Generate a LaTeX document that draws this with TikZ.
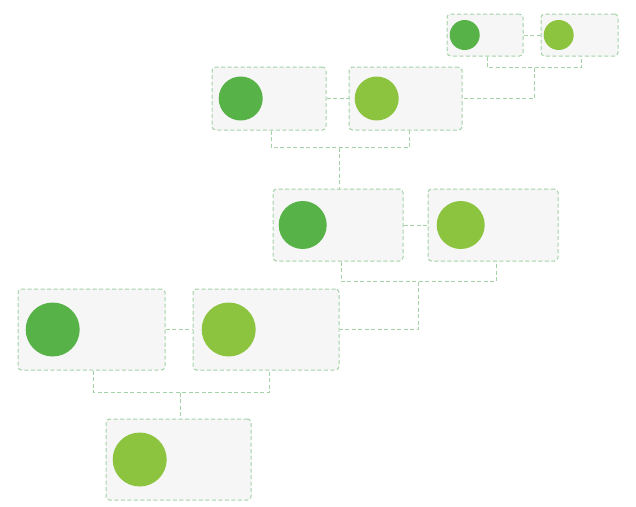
\documentclass[tikz,border=0pt]{standalone}
\usetikzlibrary{positioning, calc}

\definecolor{leafdark}{HTML}{57B247}
\definecolor{leaflight}{HTML}{8DC43F}
\definecolor{frameline}{HTML}{A3D2A6}
\definecolor{cardfill}{HTML}{F6F6F6}

\begin{document}
\begin{tikzpicture}[
    x=1pt, y=-1pt,
    card/.style={
        draw=frameline,
        fill=cardfill,
        dash pattern=on 4pt off 2.5pt,
        rounded corners=3.5pt,
        line width=1pt,
        inner sep=0pt
    },
    dot/.style={circle, inner sep=0pt, draw=none, fill=#1},
    link/.style={draw=frameline, dash pattern=on 4pt off 2.5pt, line width=1pt}
]

\useasboundingbox (0,0) rectangle (636,506);

% ------------------------
% Top pair
% ------------------------
\node[card, minimum width=76pt, minimum height=42pt] (a1) at (485,35) {};
\node[card, minimum width=77pt, minimum height=42pt] (a2) at (579.5,35) {};
\node[dot=leafdark, minimum size=30pt, right=3pt of a1.west] (a1dot) {};
\node[dot=leaflight, minimum size=30pt, right=3pt of a2.west] (a2dot) {};

% ------------------------
% Second pair
% ------------------------
\node[card, minimum width=114pt, minimum height=63pt] (b1) at (269,98.5) {};
\node[card, minimum width=113pt, minimum height=63pt] (b2) at (405.5,98.5) {};
\node[dot=leafdark, minimum size=44pt, right=7pt of b1.west] (b1dot) {};
\node[dot=leaflight, minimum size=44pt, right=6pt of b2.west] (b2dot) {};

% ------------------------
% Third pair
% ------------------------
\node[card, minimum width=130pt, minimum height=72pt] (c1) at (338,225) {};
\node[card, minimum width=130pt, minimum height=72pt] (c2) at (493,225) {};
\node[dot=leafdark, minimum size=48pt, right=6pt of c1.west] (c1dot) {};
\node[dot=leaflight, minimum size=48pt, right=9pt of c2.west] (c2dot) {};

% ------------------------
% Fourth pair
% ------------------------
\node[card, minimum width=147pt, minimum height=81pt] (d1) at (91.5,329.5) {};
\node[card, minimum width=146pt, minimum height=81pt] (d2) at (266,329.5) {};
\node[dot=leafdark, minimum size=54pt, right=8pt of d1.west] (d1dot) {};
\node[dot=leaflight, minimum size=54pt, right=9pt of d2.west] (d2dot) {};

% ------------------------
% Bottom card
% ------------------------
\node[card, minimum width=145pt, minimum height=81pt] (e) at (178.5,459.5) {};
\node[dot=leaflight, minimum size=54pt, right=7pt of e.west] (edot) {};

% ------------------------
% Links
% ------------------------
\draw[link] (a1.east) -- (a2.west |- a1.east);
\draw[link] (b1.east) -- (b2.west |- b1.east);
\draw[link] (c1.east) -- (c2.west |- c1.east);
\draw[link] (d1.east) -- (d2.west |- d1.east);

\draw[link] ([xshift=2pt]a1.south) -- ++(0,11) coordinate (ajoin) -| ([xshift=2pt]a2.south);
\draw[link] ([xshift=2pt]b1.south) -- ++(0,17) coordinate (bjoin) -| ([xshift=4pt]b2.south);
\draw[link] ([xshift=3pt]c1.south) -- ++(0,20) coordinate (cjoin) -| ([xshift=3pt]c2.south);
\draw[link] ([xshift=2pt]d1.south) -- ++(0,22) coordinate (djoin) -| ([xshift=3pt]d2.south);

\coordinate (amid) at ($(ajoin)!0.5!(a2.south |- ajoin)$);
\coordinate (bmid) at ($(bjoin)!0.5!(b2.south |- bjoin)$);
\coordinate (cmid) at ($(cjoin)!0.5!(c2.south |- cjoin)$);
\coordinate (dmid) at ($(djoin)!0.5!(d2.south |- djoin)$);

\draw[link] ([xshift=1pt]amid) |- (b2.east);
\draw[link] ([xshift=1pt]bmid) -- ([xshift=1pt]bmid |- c1.north);
\draw[link] ([xshift=1pt]cmid) |- (d2.east);
\draw[link] ([xshift=1pt]dmid) -- ([xshift=1pt]dmid |- e.north);

\end{tikzpicture}
\end{document}
